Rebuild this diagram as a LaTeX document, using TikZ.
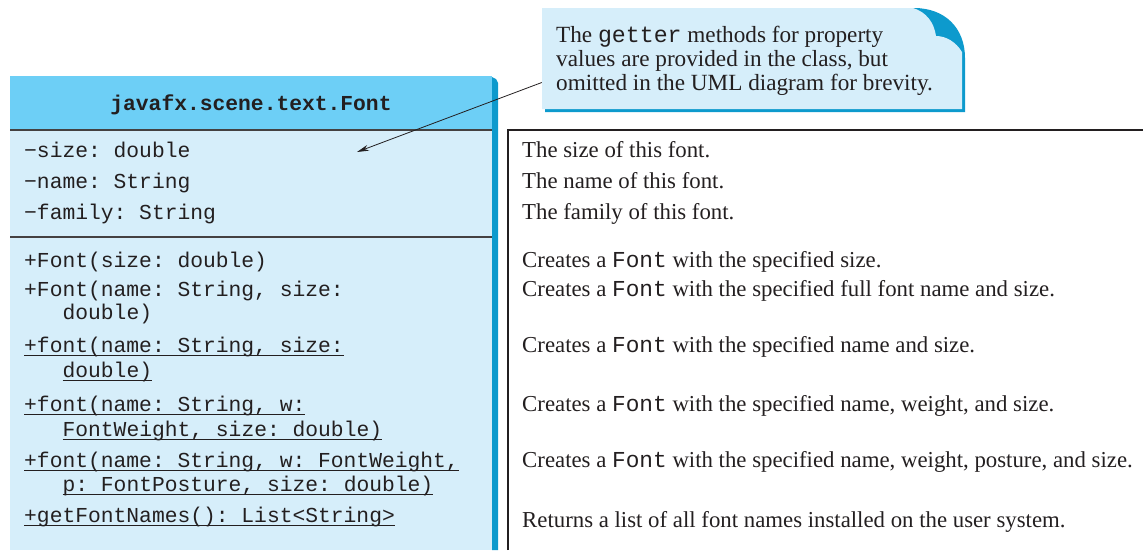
\documentclass[tikz,border=0pt]{standalone}
\usepackage{fontspec}
\setmainfont{Liberation Serif}
\setmonofont{Liberation Mono}
\usetikzlibrary{arrows.meta}
\definecolor{hdr}{HTML}{6DCFF6}
\definecolor{bodyc}{HTML}{D6EEFA}
\definecolor{shad}{HTML}{0D9ACD}
\definecolor{ink}{HTML}{231F20}
\newlength\ulw
\newcommand\myul[1]{\settowidth\ulw{#1}\rlap{#1}\rule[-4pt]{\ulw}{0.9pt}}
\begin{document}
\begin{tikzpicture}[x=1pt,y=-1pt,
  mono/.style={anchor=base west,inner sep=0pt,font=\fontsize{21.3}{24}\ttfamily,text=ink},
  desc/.style={anchor=base west,inner sep=0pt,font=\fontsize{22.8}{25}\selectfont,text=ink},
  note/.style={anchor=base west,inner sep=0pt,font=\fontsize{23.2}{25}\selectfont,text=ink},
  sepline/.style={draw=ink!85,line width=1.2pt},
  pointer/.style={draw=ink,line width=0.8pt,-{Stealth[length=12pt,width=6pt]}}]
\useasboundingbox (0,0) rectangle (1143,550);

% class box
\fill[shad] (492,77) -- (496,79) -- (498,83) -- (498,550) -- (492,550) -- cycle;
\fill[hdr] (10,76) rectangle (492,130);
\fill[bodyc] (10,130) rectangle (492,550);
\draw[sepline] (10,130) -- (492,130);
\draw[sepline] (10,237) -- (492,237);
\node[mono,anchor=base,font=\fontsize{21.3}{24}\ttfamily\bfseries] (title) at (251,110) {javafx.scene.text.Font};

% attributes
\node[mono] (a1) at (24,157) {−size: double};
\node[mono] (a2) at (24,188) {−name: String};
\node[mono] (a3) at (24,219) {−family: String};

% methods
\node[mono] (m1) at (24,267) {+Font(size: double)};
\node[mono] (m2) at (24,296) {+Font(name: String, size:};
\node[mono] (m2b) at (62.4,319) {double)};
\node[mono] (m3) at (24,352) {\myul{+font(name: String, size:}};
\node[mono] (m3b) at (62.4,377) {\myul{double)}};
\node[mono] (m4) at (24,411) {\myul{+font(name: String, w:}};
\node[mono] (m4b) at (62.4,436) {\myul{FontWeight, size: double)}};
\node[mono] (m5) at (24,467) {\myul{+font(name: String, w: FontWeight,}};
\node[mono] (m5b) at (62.4,491) {\myul{p: FontPosture, size: double)}};
\node[mono] (m6) at (24,522) {\myul{+getFontNames(): List<String>}};

% description box
\draw[ink,line width=1.3pt] (508,550) -- (508,130) -- (1143,130);
\node[desc] (d1) at (522,157) {The size of this font.};
\node[desc] (d2) at (522,188) {The name of this font.};
\node[desc] (d3) at (522,219) {The family of this font.};
\node[desc] (d4) at (522,267) {Creates a \texttt{Font} with the specified size.};
\node[desc] (d5) at (522,296) {Creates a \texttt{Font} with the specified full font name and size.};
\node[desc] (d6) at (522,352) {Creates a \texttt{Font} with the specified name and size.};
\node[desc] (d7) at (522,411) {Creates a \texttt{Font} with the specified name, weight, and size.};
\node[desc] (d8) at (522,467) {Creates a \texttt{Font} with the specified name, weight, posture, and size.};
\node[desc] (d9) at (522,527) {Returns a list of all font names installed on the user system.};

% callout
\fill[shad] (545,11) -- (914,8) .. controls (945,8) and (965,28) .. (965,58) -- (965,112) -- (545,112) -- cycle;
\fill[bodyc] (542,8) -- (913,8) .. controls (926,12) and (934,22) .. (936,36)
  .. controls (946,36) and (956,42) .. (962,52) -- (962,109) -- (542,109) -- cycle;
\node[inner sep=0pt,minimum width=420pt,minimum height=101pt] (callout) at (752,58.5) {};
\node[note] (c1) at (556,42) {The \texttt{getter} methods for property};
\node[note] (c2) at (556,66) {values are provided in the class, but};
\node[note] (c3) at (556,90) {omitted in the UML diagram for brevity.};
\coordinate (tip) at (357,152);
\draw[pointer] ([yshift=-24pt]callout.west) -- (tip);
\end{tikzpicture}
\end{document}
